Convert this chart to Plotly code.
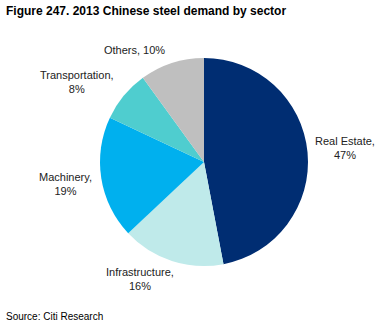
import plotly.graph_objects as go

sectors = ["Real Estate", "Infrastructure", "Machinery", "Transportation", "Others"]
shares = [47, 16, 19, 8, 10]
colors = ["#002D72", "#BFEAEA", "#00B0EE", "#4FCDCF", "#BFBFBF"]
# label anchor positions (paper coords) and text
label_text = ["Real Estate,<br>47%", "Infrastructure,<br>16%", "Machinery,<br>19%",
              "Transportation,<br>8%", "Others, 10%"]
label_x = [345, 140, 65, 77, 134]
label_y = [148, 279, 184, 82, 50]

W, H = 379, 325
cx, cy, r = 204, 162, 104

fig = go.Figure(go.Pie(
    labels=sectors, values=shares, sort=False, direction="clockwise", rotation=0,
    marker=dict(colors=colors, line=dict(width=0)),
    textinfo="none", hoverinfo="label+percent", showlegend=False,
    domain=dict(x=[(cx - r) / W, (cx + r) / W], y=[(H - cy - r) / H, (H - cy + r) / H]),
))

fam = "Liberation Sans Narrow, Arial Narrow, Liberation Sans, Arial"
font_lbl = dict(family=fam, size=11, color="#222222")
for t, x, y in zip(label_text, label_x, label_y):
    fig.add_annotation(text=t, x=x / W, y=1 - y / H, xref="paper", yref="paper",
                       showarrow=False, xanchor="center", yanchor="middle", font=font_lbl)

fig.add_annotation(text="<b>Figure 247. 2013 Chinese steel demand by sector</b>",
                   x=4 / W, y=1 - 11 / H, xref="paper", yref="paper", showarrow=False,
                   xanchor="left", yanchor="middle",
                   font=dict(family=fam, size=12, color="#000000"))
fig.add_annotation(text="Source: Citi Research",
                   x=4 / W, y=1 - 316 / H, xref="paper", yref="paper", showarrow=False,
                   xanchor="left", yanchor="middle",
                   font=dict(family=fam, size=10, color="#000000"))

fig.update_layout(width=W, height=H, margin=dict(l=0, r=0, t=0, b=0),
                  paper_bgcolor="white", plot_bgcolor="white")
fig.write_html("out.html")
